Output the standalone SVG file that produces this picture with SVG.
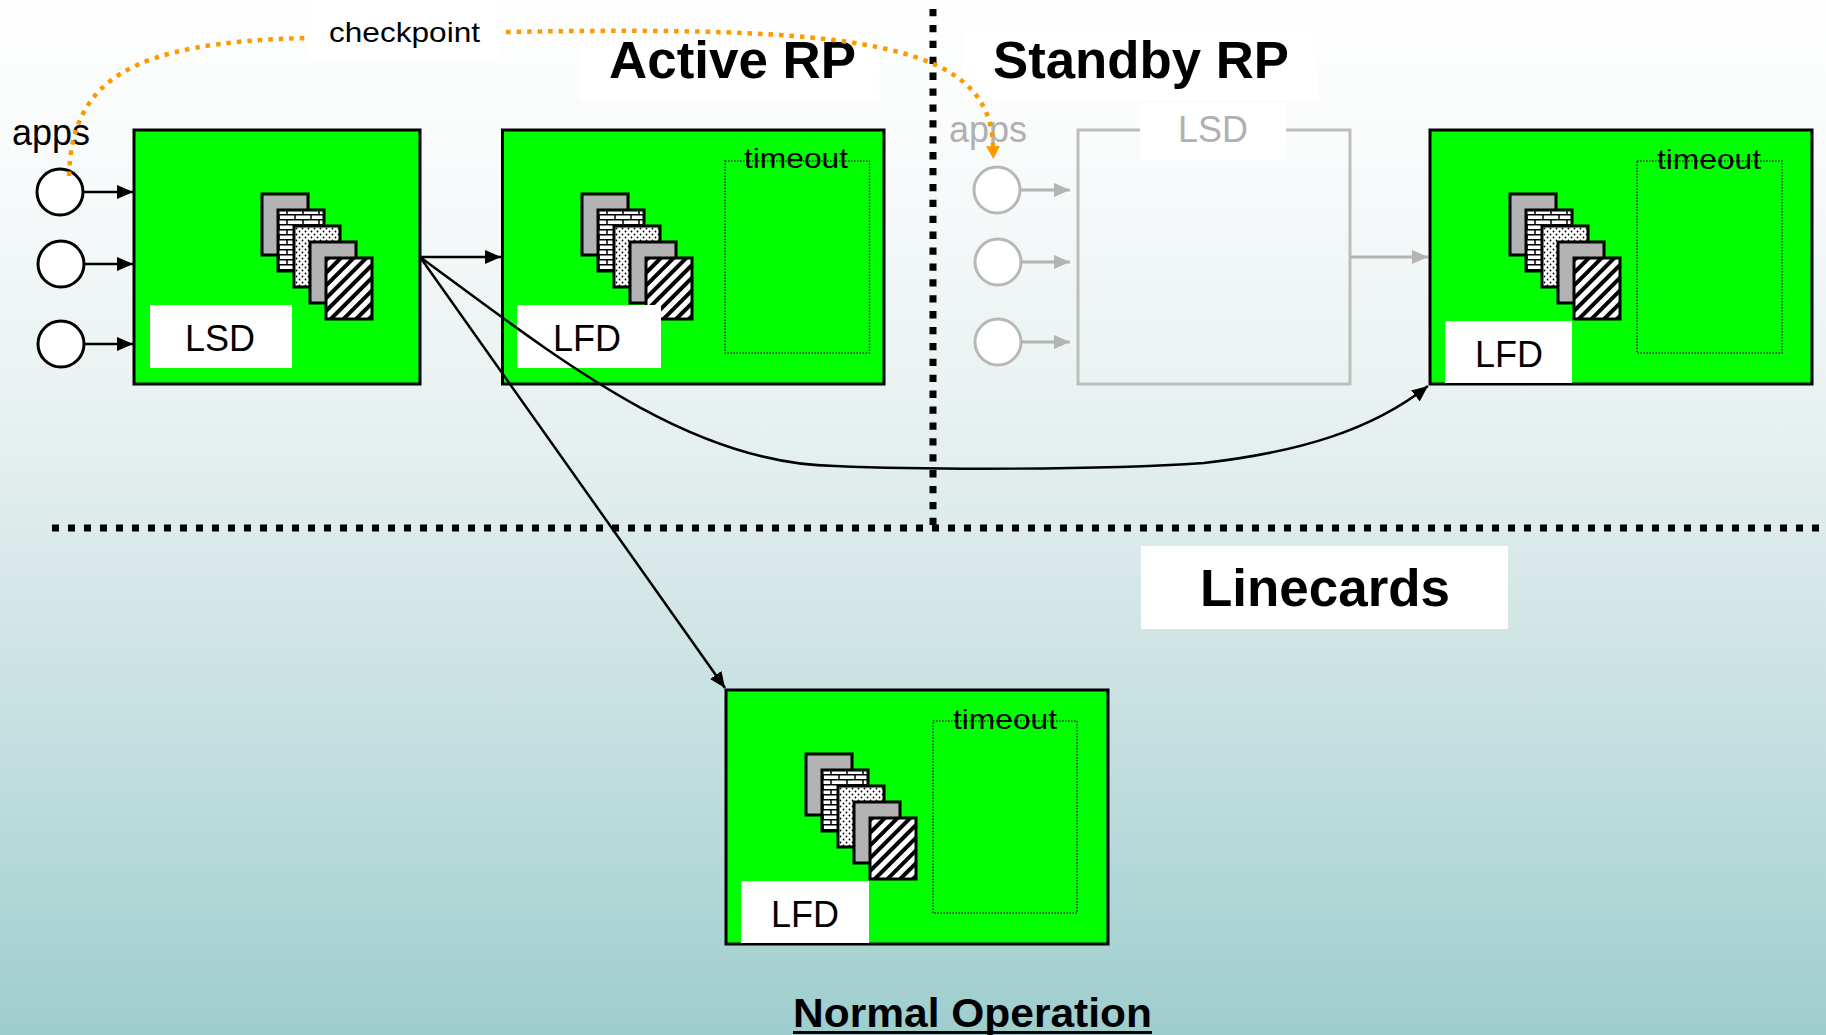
<svg xmlns="http://www.w3.org/2000/svg" width="1826" height="1035" viewBox="0 0 1826 1035">
<defs>
  <linearGradient id="bg" x1="0" y1="0" x2="0" y2="1">
    <stop offset="0" stop-color="#fefefe"/>
    <stop offset="0.12" stop-color="#fafcfc"/>
    <stop offset="0.4" stop-color="#e8f1f1"/>
    <stop offset="0.55" stop-color="#d8e8e8"/>
    <stop offset="0.75" stop-color="#c0dddd"/>
    <stop offset="1" stop-color="#9ecdcd"/>
  </linearGradient>
  <pattern id="brick" patternUnits="userSpaceOnUse" width="16" height="10">
    <rect width="16" height="10" fill="#fff"/>
    <path d="M0,0.75H16M0,5.75H16M1,0V5M9,5V10" stroke="#000" stroke-width="1.5" fill="none"/>
  </pattern>
  <pattern id="dots" patternUnits="userSpaceOnUse" width="6" height="6">
    <rect width="6" height="6" fill="#fff"/>
    <circle cx="1.5" cy="1.5" r="0.9" fill="#000"/>
    <circle cx="4.5" cy="4.5" r="0.9" fill="#000"/>
  </pattern>
  <pattern id="hatch" patternUnits="userSpaceOnUse" width="9" height="9" patternTransform="rotate(45)">
    <rect width="9" height="9" fill="#fff"/>
    <rect width="4" height="9" fill="#000"/>
  </pattern>
  <g id="pages">
    <rect x="0" y="0" width="46" height="61" fill="#b3b3b3" class="pg"/>
    <rect x="16" y="16" width="46" height="61" fill="url(#brick)" class="pg"/>
    <rect x="32" y="32" width="46" height="61" fill="url(#dots)" class="pg"/>
    <rect x="48" y="48" width="46" height="61" fill="#b3b3b3" class="pg"/>
    <rect x="64" y="64" width="46" height="61" fill="url(#hatch)" class="pg"/>
  </g>
  <marker id="ah" markerUnits="userSpaceOnUse" markerWidth="16" markerHeight="14" refX="16" refY="7" orient="auto">
    <path d="M0,0L16,7L0,14z" fill="#000"/>
  </marker>
  <marker id="ahg" markerUnits="userSpaceOnUse" markerWidth="16" markerHeight="14" refX="16" refY="7" orient="auto">
    <path d="M0,0L16,7L0,14z" fill="#b4b4b4"/>
  </marker>
  <marker id="aho" markerUnits="userSpaceOnUse" markerWidth="14" markerHeight="14" refX="0" refY="7" orient="auto">
    <path d="M0,0L13,7L0,14z" fill="#ff9900"/>
  </marker>
</defs>
<style>
  .box{fill:#00ff00;stroke:#000;stroke-width:3}
  .pg{stroke:#000;stroke-width:3}
  .lbl{fill:#fff}
  .to{fill:none;stroke:#333;stroke-width:1.5;stroke-dasharray:1.5 1.5}
  .t{font-family:"Liberation Sans",Arial,sans-serif;fill:#000}
  .b{font-weight:bold}
  .g{fill:#b0b0b0}
  .app{fill:#fff;stroke:#000;stroke-width:3}
  .appg{fill:#fff;stroke:#b8b8b8;stroke-width:3}
  .ln{fill:none;stroke:#000;stroke-width:2.5}
  .lng{fill:none;stroke:#b4b4b4;stroke-width:3}
  .orange{fill:none;stroke:#ff9900;stroke-width:4.5;stroke-dasharray:4.5 6}
</style>
<rect x="0" y="0" width="1826" height="1035" fill="url(#bg)"/>

<g id="headings">
  <rect x="307" y="0" width="192" height="60" fill="#fff"/>
  <rect x="579" y="33" width="300" height="67" fill="#fff"/>
  <rect x="963" y="28" width="355" height="72" fill="#fff"/>
  <text class="t" x="329" y="42" font-size="28" textLength="151" lengthAdjust="spacingAndGlyphs">checkpoint</text>
  <text class="t b" x="609" y="78" font-size="51" textLength="247" lengthAdjust="spacingAndGlyphs">Active RP</text>
  <text class="t b" x="993" y="78" font-size="51" textLength="296" lengthAdjust="spacingAndGlyphs">Standby RP</text>
  <rect x="1141" y="546" width="367" height="83" fill="#fff"/>
  <text class="t b" x="1200" y="606" font-size="51" textLength="250" lengthAdjust="spacingAndGlyphs">Linecards</text>
  <text class="t b" x="793" y="1027" font-size="41" textLength="359" lengthAdjust="spacingAndGlyphs">Normal Operation</text>
  <line x1="793" y1="1032.5" x2="1152" y2="1032.5" stroke="#000" stroke-width="3"/>
</g>

<g id="separators">
  <line x1="933" y1="9" x2="933" y2="529" stroke="#000" stroke-width="7" stroke-dasharray="7.3 8.6"/>
  <line x1="52" y1="528" x2="1826" y2="528" stroke="#000" stroke-width="7" stroke-dasharray="7 9"/>
</g>

<g id="apps-active">
  <text class="t" x="12" y="145" font-size="36">apps</text>
  <circle class="app" cx="60" cy="192" r="23"/>
  <circle class="app" cx="61" cy="264" r="23"/>
  <circle class="app" cx="61" cy="344" r="23"/>
</g>

<g id="lsd-active">
  <rect class="box" x="134" y="130" width="286" height="254"/>
  <use href="#pages" x="262" y="194"/>
  <rect class="lbl" x="150" y="305" width="142" height="63"/>
  <text class="t" x="185" y="351" font-size="36">LSD</text>
</g>

<g id="lfd-active">
  <rect class="box" x="502.5" y="130" width="381.5" height="254"/>
  <rect class="to" x="725" y="161" width="144.5" height="192"/>
  <use href="#pages" x="582" y="194"/>
  <rect class="lbl" x="517" y="305" width="144" height="63"/>
  <text class="t" x="553" y="351" font-size="36">LFD</text>
  <text class="t" x="744" y="168" font-size="28" textLength="104" lengthAdjust="spacingAndGlyphs">timeout</text>
</g>

<g id="apps-standby">
  <text class="t g" x="949" y="142" font-size="36">apps</text>
  <circle class="appg" cx="997" cy="190" r="23"/>
  <circle class="appg" cx="998" cy="262" r="23"/>
  <circle class="appg" cx="998" cy="342" r="23"/>
</g>

<g id="lsd-standby">
  <rect x="1078" y="130" width="272" height="254" fill="none" stroke="#bdbdbd" stroke-width="3"/>
  <rect class="lbl" x="1140" y="103" width="146" height="57"/>
  <text class="t g" x="1178" y="142" font-size="36">LSD</text>
</g>

<g id="lfd-standby">
  <rect class="box" x="1430" y="130" width="382" height="254"/>
  <rect class="to" x="1637" y="161" width="145" height="192"/>
  <use href="#pages" x="1510" y="194"/>
  <rect class="lbl" x="1445" y="321" width="127" height="62"/>
  <text class="t" x="1475" y="367" font-size="36">LFD</text>
  <text class="t" x="1657" y="169" font-size="28" textLength="104" lengthAdjust="spacingAndGlyphs">timeout</text>
</g>

<g id="lfd-linecard">
  <rect class="box" x="726" y="690" width="382" height="254"/>
  <rect class="to" x="933" y="721" width="144" height="192"/>
  <use href="#pages" x="806" y="754"/>
  <rect class="lbl" x="741" y="881" width="128" height="62"/>
  <text class="t" x="771" y="927" font-size="36">LFD</text>
  <text class="t" x="953" y="729" font-size="28" textLength="104" lengthAdjust="spacingAndGlyphs">timeout</text>
</g>

<g id="connectors">
  <line class="ln" x1="84" y1="192" x2="133" y2="192" marker-end="url(#ah)"/>
  <line class="ln" x1="85" y1="264" x2="133" y2="264" marker-end="url(#ah)"/>
  <line class="ln" x1="85" y1="344" x2="133" y2="344" marker-end="url(#ah)"/>
  <line class="ln" x1="420" y1="257" x2="501" y2="257" marker-end="url(#ah)"/>
  <line class="ln" x1="420" y1="257" x2="725" y2="688" marker-end="url(#ah)"/>
  <path class="ln" d="M420,257 C560,360 690,464 835,466 C930,470 1100,470 1204,463 C1300,452 1372,430 1428,386" marker-end="url(#ah)"/>
  <line class="lng" x1="1021" y1="190" x2="1070" y2="190" marker-end="url(#ahg)"/>
  <line class="lng" x1="1022" y1="262" x2="1070" y2="262" marker-end="url(#ahg)"/>
  <line class="lng" x1="1022" y1="342" x2="1070" y2="342" marker-end="url(#ahg)"/>
  <line class="lng" x1="1350" y1="257" x2="1428" y2="257" marker-end="url(#ahg)"/>
  <path class="orange" d="M69,176 C72,80 130,42 307,38"/>
  <path class="orange" d="M506,32 C850,26 990,40 993,146" marker-end="url(#aho)"/>
</g>
</svg>
